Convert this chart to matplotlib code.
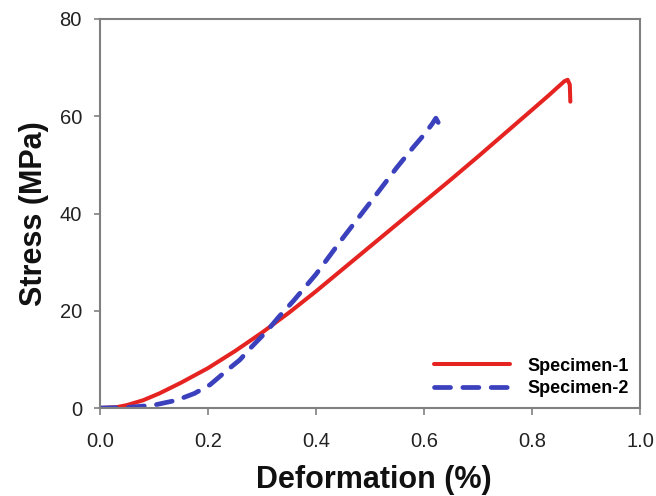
import matplotlib
matplotlib.use('Agg')
import matplotlib.pyplot as plt

plt.rcParams['font.family'] = ['Liberation Sans', 'DejaVu Sans']

# Specimen-1 (solid red)
strain_1 = [0.0, 0.03, 0.05, 0.08, 0.11, 0.15, 0.20, 0.25, 0.30, 0.35, 0.40,
            0.45, 0.50, 0.55, 0.60, 0.65, 0.70, 0.75, 0.80, 0.83, 0.85, 0.86,
            0.866, 0.870, 0.871]
stress_1 = [0.0, 0.15, 0.6, 1.6, 3.0, 5.2, 8.2, 11.7, 15.5, 19.6, 24.0,
            28.6, 33.2, 37.8, 42.4, 47.0, 51.7, 56.5, 61.3, 64.2, 66.2, 67.2,
            67.5, 66.5, 63.0]

# Specimen-2 (dashed blue)
strain_2 = [0.0, 0.05, 0.10, 0.142, 0.175, 0.204, 0.238, 0.259, 0.281, 0.309,
            0.33, 0.358, 0.40, 0.45, 0.50, 0.55, 0.58, 0.60, 0.615, 0.622,
            0.627]
stress_2 = [0.0, 0.1, 0.6, 1.6, 3.0, 4.8, 8.0, 9.9, 12.6, 15.8,
            18.6, 22.0, 27.5, 35.0, 42.2, 49.5, 53.6, 56.2, 58.4, 59.6,
            58.6]

labels = ['Specimen-1', 'Specimen-2']

fig = plt.figure(figsize=(6.56, 4.96), dpi=100)
ax = fig.add_axes([0.1524, 0.1774, 0.8232, 0.7843])

ax.plot(strain_1, stress_1, color='#e52421', lw=2.9, label=labels[0],
        solid_capstyle='round', solid_joinstyle='round')
ax.plot(strain_2, stress_2, color='#3b40bd', lw=3.4, label=labels[1],
        linestyle=(0, (3.4, 2.6)), dash_capstyle='round')

ax.set_xlim(0, 1.0)
ax.set_ylim(0, 80)
ax.set_xticks([0.0, 0.2, 0.4, 0.6, 0.8, 1.0])
ax.set_xticklabels(['0.0', '0.2', '0.4', '0.6', '0.8', '1.0'])
ax.set_yticks([0, 20, 40, 60, 80])

for s in ax.spines.values():
    s.set_color('#808080')
    s.set_linewidth(1.5)

ax.tick_params(axis='both', colors='#808080', labelcolor='#222222',
               labelsize=14.5, width=1.2)
ax.tick_params(axis='x', length=5, pad=12.5)
ax.tick_params(axis='y', length=4, pad=9)

ax.set_xlabel('Deformation (%)', fontsize=22, fontweight='bold', color='#111111')
ax.xaxis.set_label_coords(0.507, -0.147)
ax.set_ylabel('Stress (MPa)', fontsize=22, fontweight='bold', color='#111111',
              va='center')
ax.yaxis.set_label_coords(-0.122, 0.5)

leg = ax.legend(loc='lower right', frameon=False, prop={'weight': 'bold', 'size': 13},
                handlelength=4.2, handletextpad=1.0, labelspacing=0.3,
                borderaxespad=0.2, bbox_to_anchor=(1.0, 0.0))

fig.savefig('out.png', dpi=100)
